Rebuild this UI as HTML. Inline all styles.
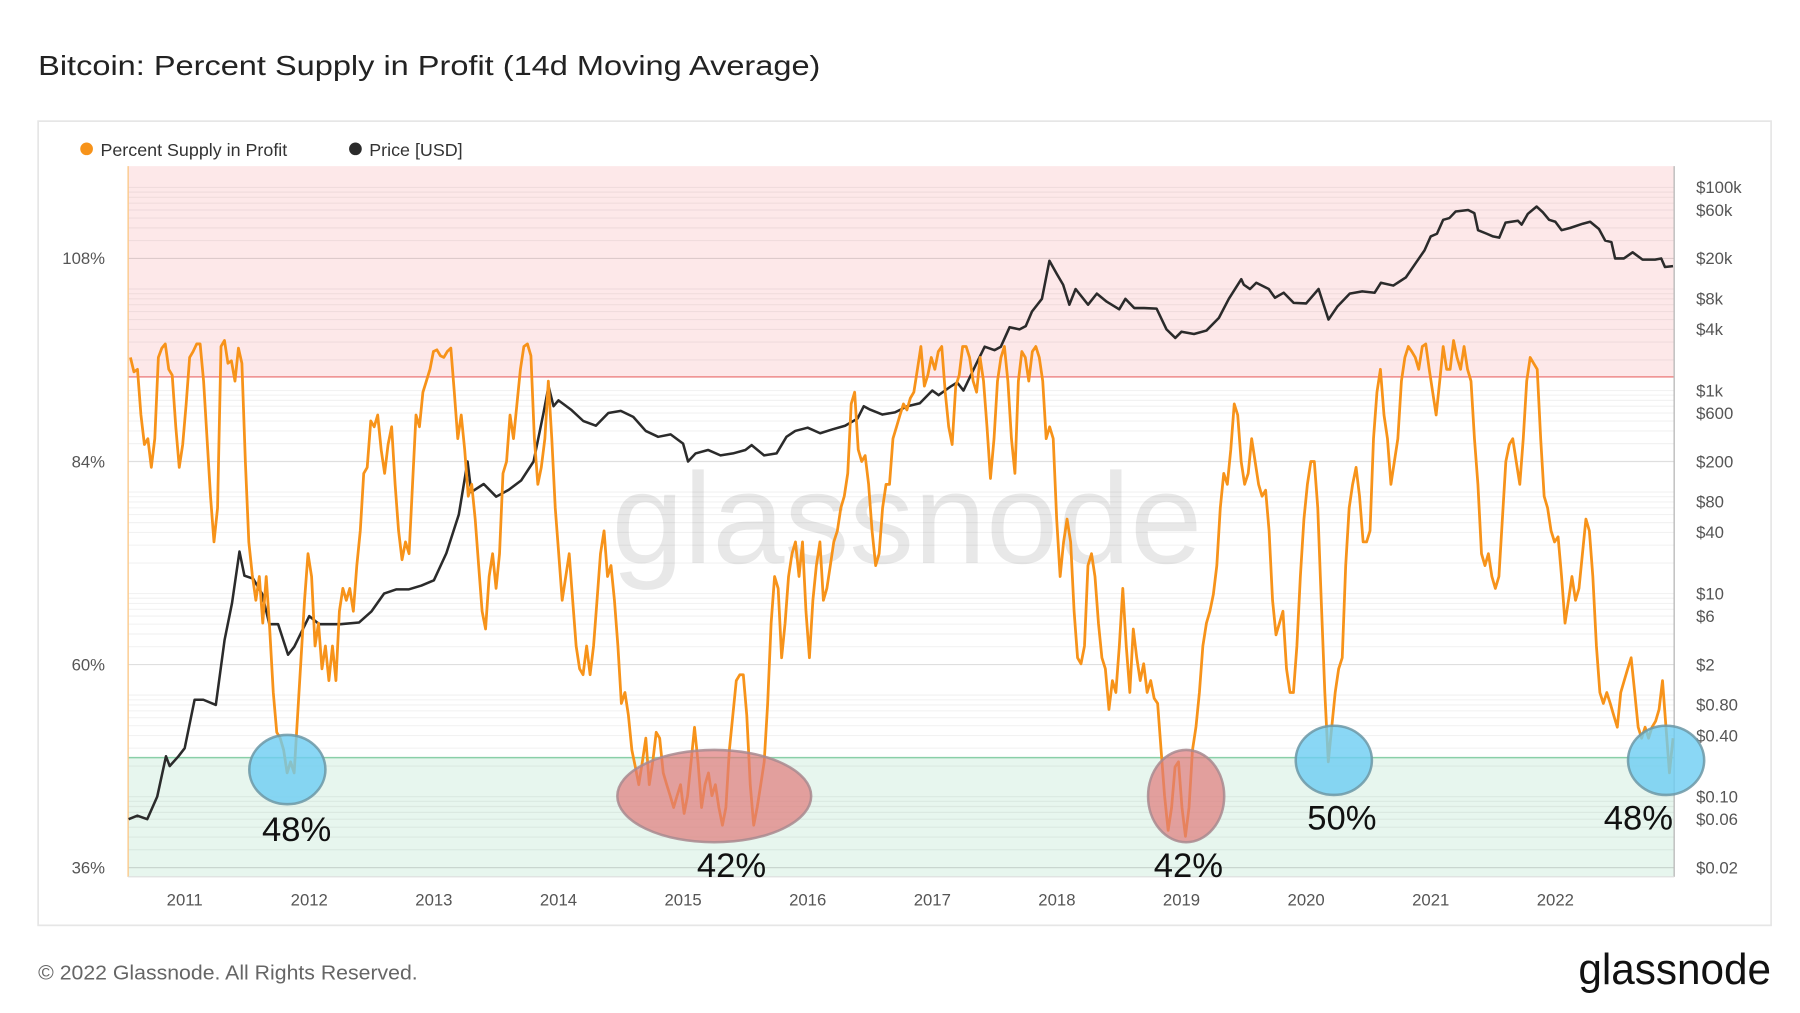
<!DOCTYPE html>
<html><head><meta charset="utf-8"><style>
html,body{margin:0;padding:0;background:#fff;}
svg{display:block;font-family:"Liberation Sans",sans-serif;}
</style></head><body>
<svg id="chart" width="1800" height="1013" viewBox="0 0 1560 878" xmlns="http://www.w3.org/2000/svg">
<text x="33" y="65" font-size="24" fill="#222" textLength="678" lengthAdjust="spacingAndGlyphs">Bitcoin: Percent Supply in Profit (14d Moving Average)</text>
<rect x="33" y="105" width="1502" height="697" fill="#fff" stroke="#e6e6e6" stroke-width="1.5"/>
<g>
<circle cx="75" cy="129" r="5.5" fill="#f7931a"/>
<text x="87" y="135" font-size="15.5" fill="#333">Percent Supply in Profit</text>
<circle cx="308" cy="129" r="5.5" fill="#2b2b2b"/>
<text x="320" y="135" font-size="15.5" fill="#333">Price [USD]</text>
</g>
<g id="bands"></g>
<g id="grid"></g>
<text x="530" y="488" font-size="112" fill="#000" fill-opacity="0.09" textLength="512" lengthAdjust="spacingAndGlyphs">glassnode</text>
<g id="axes"></g>
<g id="series"></g>
<g id="annotations"></g>
<text x="33" y="849" font-size="17.5" fill="#666" textLength="329" lengthAdjust="spacingAndGlyphs">© 2022 Glassnode. All Rights Reserved.</text>
<text x="1368" y="853" font-size="38" fill="#111" textLength="167" lengthAdjust="spacingAndGlyphs">glassnode</text>
</svg>
<script>
const pctStart = 2010.565;
const pctEnd = 2022.944;
const pctValues = [96.3,94.6,94.9,89.5,86.0,86.7,83.3,86.7,96.3,97.4,97.9,94.9,94.2,88.1,83.3,86.0,90.8,96.3,97.0,97.9,97.9,93.5,86.7,79.9,74.5,78.5,97.6,98.3,95.6,95.9,93.5,97.4,95.6,84.0,74.5,70.6,67.6,70.4,64.9,70.4,64.2,56.7,52.0,51.3,49.9,47.2,48.5,47.2,54.0,60.8,67.6,73.1,70.4,62.2,64.9,59.5,62.2,58.1,
62.2,58.1,66.3,69.0,67.6,69.0,66.3,71.7,75.8,82.6,83.3,88.8,88.1,89.5,85.4,82.6,86.0,88.1,81.3,75.8,72.4,74.5,73.1,81.3,89.5,88.1,92.2,93.5,94.9,97.0,97.2,96.5,96.3,97.0,97.4,92.2,86.7,89.5,85.4,79.9,81.3,77.2,71.7,66.3,64.2,70.4,73.1,69.0,73.1,82.6,84.0,89.5,86.7,90.8,94.9,97.6,97.9,96.5,86.7,81.3,83.3,86.7,93.5,86.7,78.5,73.1,67.6,70.4,73.1,67.6,62.2,59.5,58.8,62.2,58.8,62.2,67.6,73.1,75.8,70.4,71.7,67.6,62.2,55.4,56.7,54.0,49.9,47.9,45.8,48.5,51.3,45.8,48.5,52.0,51.3,47.2,45.8,44.5,43.1,44.5,45.8,42.4,44.5,48.5,52.6,48.5,43.1,45.8,47.2,44.5,45.8,43.1,41.0,43.1,49.9,54.0,58.1,58.8,58.8,54.0,45.8,41.0,43.1,45.8,48.5,55.4,64.9,70.4,69.0,60.8,64.9,70.4,73.1,74.5,70.4,74.5,66.3,60.8,67.6,71.7,74.5,67.6,69.0,71.7,74.5,75.8,78.5,79.9,82.6,90.8,92.2,85.4,84.0,84.7,81.3,75.8,71.7,73.1,78.5,81.3,81.3,86.7,88.1,89.5,90.8,90.1,91.5,92.2,94.9,97.6,92.9,94.2,96.3,94.9,97.0,97.6,92.2,88.1,86.0,92.9,94.2,97.6,97.6,96.3,93.5,92.2,96.3,93.5,88.1,82.0,86.7,93.5,96.3,97.6,93.5,86.7,82.6,93.5,97.0,96.3,93.5,97.0,97.6,96.3,93.5,86.7,88.1,86.7,77.2,70.4,74.5,77.2,74.5,66.3,60.8,60.1,62.2,71.7,73.1,70.4,64.9,60.8,59.5,54.7,58.1,56.7,62.2,69.0,62.2,56.7,64.2,60.8,58.1,60.1,56.7,58.1,56.0,55.4,49.9,44.5,40.4,43.1,47.9,48.5,43.1,39.7,43.1,49.9,52.6,56.7,62.2,64.9,66.3,68.3,71.7,78.5,82.6,81.3,85.4,90.8,89.5,84.0,81.3,82.6,86.7,84.0,81.3,79.9,80.6,75.8,67.6,63.5,64.9,66.3,59.5,56.7,56.7,62.2,70.4,77.2,81.3,84.0,84.0,78.5,67.6,56.7,48.5,52.6,56.7,59.5,60.8,71.7,78.5,81.3,83.3,79.9,74.5,74.5,75.8,86.7,92.2,94.9,89.5,86.7,81.3,84.0,86.7,93.5,96.3,97.6,97.0,96.3,94.9,97.6,97.9,94.9,92.2,89.5,93.5,97.6,94.9,94.9,98.3,96.3,94.9,97.6,94.9,93.5,86.7,81.3,73.1,71.7,73.1,70.4,69.0,70.4,77.2,84.0,86.0,86.7,84.0,81.3,86.7,93.5,96.3,95.6,94.9,86.7,79.9,78.5,75.8,74.5,75.1,70.4,64.9,67.6,70.4,67.6,69.0,73.1,77.2,75.8,70.4,62.2,56.7,55.4,56.7,55.4,54.0,52.6,56.7,58.1,59.5,60.8,56.7,52.6,51.3,52.6,51.3,52.6,53.3,54.7,58.1,52.6,47.2,51.3];
const priceDates = [2010.55,2010.62,2010.70,2010.78,2010.85,2010.88,2010.95,2011.0,2011.08,2011.15,2011.25,2011.32,2011.38,2011.44,2011.48,2011.55,2011.62,2011.68,2011.75,2011.83,2011.88,2011.95,2012.0,2012.08,2012.25,2012.4,2012.5,2012.6,2012.7,2012.8,2012.9,2013.0,2013.1,2013.2,2013.27,2013.3,2013.4,2013.5,2013.6,2013.7,2013.8,2013.88,2013.92,2013.96,2014.0,2014.1,2014.2,2014.3,2014.4,2014.5,2014.6,2014.7,2014.8,2014.9,2015.0,2015.04,2015.1,2015.2,2015.3,2015.4,2015.5,2015.55,2015.65,2015.75,2015.83,2015.9,2016.0,2016.1,2016.2,2016.3,2016.4,2016.45,2016.5,2016.6,2016.7,2016.8,2016.9,2017.0,2017.05,2017.15,2017.2,2017.25,2017.35,2017.42,2017.5,2017.55,2017.62,2017.7,2017.75,2017.8,2017.88,2017.94,2018.0,2018.05,2018.1,2018.15,2018.25,2018.32,2018.4,2018.5,2018.55,2018.62,2018.7,2018.8,2018.88,2018.95,2019.0,2019.1,2019.2,2019.3,2019.38,2019.48,2019.5,2019.55,2019.6,2019.7,2019.75,2019.82,2019.9,2020.0,2020.1,2020.18,2020.25,2020.35,2020.45,2020.55,2020.6,2020.7,2020.8,2020.88,2020.95,2021.0,2021.05,2021.1,2021.15,2021.2,2021.3,2021.35,2021.38,2021.45,2021.5,2021.55,2021.6,2021.7,2021.73,2021.78,2021.85,2021.9,2021.95,2022.0,2022.05,2022.12,2022.22,2022.28,2022.35,2022.4,2022.45,2022.48,2022.55,2022.62,2022.7,2022.8,2022.85,2022.88,2022.944];
const priceValues = [0.06,0.065,0.06,0.10,0.25,0.2,0.25,0.30,0.9,0.9,0.8,3.5,8,26,15,14,10,5,5,2.5,3,4.5,6,5,5,5.2,6.7,10,11,11,12,13.5,25,60,200,100,120,90,105,130,200,600,1100,700,800,650,500,450,600,630,550,400,350,370,300,200,240,260,230,240,260,290,230,240,350,400,430,380,415,450,530,700,650,580,610,700,750,1000,900,1100,1200,1000,1800,2700,2500,2700,4200,4000,4300,6000,8000,19000,14000,11000,7000,10000,7000,9000,7500,6300,8000,6500,6500,6400,4000,3300,3800,3600,3900,5200,8000,12500,11000,10000,11500,10000,8200,9200,7300,7200,10000,5000,6700,9000,9500,9200,11500,10800,13000,18000,24000,33000,35000,48000,50000,58000,60000,56000,38000,35000,33000,32000,45000,47000,43000,55000,65000,57000,48000,46000,38000,40000,44000,46000,39000,30000,29000,20000,20000,23000,19500,19500,20000,16500,16800];
const yearTicks = [2011,2012,2013,2014,2015,2016,2017,2018,2019,2020,2021,2022];
const pctTicks = [36,60,84,108];
const priceTicks = [100000,60000,20000,8000,4000,1000,600,200,80,40,10,6,2,0.8,0.4,0.1,0.06,0.02];
const priceTickLabels = ["$100k","$60k","$20k","$8k","$4k","$1k","$600","$200","$80","$40","$10","$6","$2","$0.80","$0.40","$0.10","$0.06","$0.02"];
const upperThreshold = 94;
const lowerThreshold = 49;

const NS="http://www.w3.org/2000/svg";
const PL=111, PR=1451, PT=144, PB=760;
const xScale = t => 160 + (t-2011)*108;
const yPct = p => 752 - (p-36)*(176/24);
const yPrice = v => 752 - Math.log10(v/0.02)*88;
function mk(tag, parent, attrs){const e=document.createElementNS(NS,tag);for(const k in attrs)e.setAttribute(k,attrs[k]);parent.appendChild(e);return e;}
const bands=document.getElementById('bands'), grid=document.getElementById('grid'), axes=document.getElementById('axes'), series=document.getElementById('series'), ann=document.getElementById('annotations');

let r=mk('rect',bands,{x:PL,y:PT,width:PR-PL,height:PB-PT,fill:'#fff'});


r=mk('rect',bands,{x:PL,y:PT,width:PR-PL,height:yPct(upperThreshold)-PT,fill:'#fde8e9'});


r=mk('rect',bands,{x:PL,y:yPct(lowerThreshold),width:PR-PL,height:PB-yPct(lowerThreshold),fill:'#e7f6ee'});



const gridVals=[];
for(let d=-2;d<=5;d++){[1,2,3,4,5,6,7,8,9].forEach(m=>{const v=m*Math.pow(10,d);if(v>=0.02&&v<=150000)gridVals.push(v);});}
gridVals.forEach(v=>{const y=yPrice(v);if(y<PT||y>PB)return;
 const l=mk('line',grid,{x1:PL,x2:PR,y1:y,y2:y,stroke:'#000','stroke-opacity':0.05,'stroke-width':1});
 
 });
pctTicks.forEach(p=>{const y=yPct(p);const l=mk('line',grid,{x1:PL,x2:PR,y1:y,y2:y,stroke:'#000','stroke-opacity':0.08,'stroke-width':1});
 
 });
let ln=mk('line',grid,{x1:PL,x2:PR,y1:yPct(upperThreshold),y2:yPct(upperThreshold),stroke:'#ee8a8a','stroke-width':1.3});


ln=mk('line',grid,{x1:PL,x2:PR,y1:yPct(lowerThreshold),y2:yPct(lowerThreshold),stroke:'#8acfa8','stroke-width':1.3});


ln=mk('line',axes,{x1:PL,x2:PL,y1:PT,y2:PB,stroke:'#fbc98a','stroke-width':1.2});


ln=mk('line',axes,{x1:PR,x2:PR,y1:PT,y2:PB,stroke:'#bbb','stroke-width':1.2});


ln=mk('line',axes,{x1:PL,x2:PR,y1:PB,y2:PB,stroke:'#ddd','stroke-width':1});



yearTicks.forEach(yr=>{const t=mk('text',axes,{x:xScale(yr),y:785,'font-size':14.5,fill:'#555','text-anchor':'middle'});t.textContent=yr;
 
 });
pctTicks.forEach(p=>{const t=mk('text',axes,{x:91,y:yPct(p)+5,'font-size':14.5,fill:'#555','text-anchor':'end'});t.textContent=p+'%';
 
 });
priceTicks.forEach((v,i)=>{const t=mk('text',axes,{x:1470,y:yPrice(v)+5,'font-size':14.5,fill:'#555'});t.textContent=priceTickLabels[i];
 
 });

let d='';priceDates.forEach((t,i)=>{d+=(i?'L':'M')+xScale(t).toFixed(1)+' '+yPrice(priceValues[i]).toFixed(1);});
let p=mk('path',series,{d:d,fill:'none',stroke:'#2b2b2b','stroke-width':2.2,'stroke-linejoin':'round'});


d='';const n=pctValues.length;pctValues.forEach((v,i)=>{const t=pctStart+(pctEnd-pctStart)*i/(n-1);d+=(i?'L':'M')+xScale(t).toFixed(1)+' '+yPct(v).toFixed(1);});
p=mk('path',series,{d:d,fill:'none',stroke:'#f7931a','stroke-width':2.4,'stroke-linejoin':'round'});



const anns=[
 {cx:249,cy:667,rx:33,ry:30,c:'blue',label:'48%',lx:257,ly:729},
 {cx:619,cy:690,rx:84,ry:40,c:'red',label:'42%',lx:634,ly:760},
 {cx:1028,cy:690,rx:33,ry:40,c:'red',label:'42%',lx:1030,ly:760},
 {cx:1156,cy:659,rx:33,ry:30,c:'blue',label:'50%',lx:1163,ly:719},
 {cx:1444,cy:659,rx:33,ry:30,c:'blue',label:'48%',lx:1420,ly:719}];
anns.forEach(a=>{
 const e=mk('ellipse',ann,{cx:a.cx,cy:a.cy,rx:a.rx,ry:a.ry,fill:a.c==='blue'?'#6dcdf2':'#e07a7a','fill-opacity':a.c==='blue'?0.8:0.7,stroke:a.c==='blue'?'#6c98a6':'#a88a8f','stroke-width':2.2,'stroke-opacity':0.85});
 
 
 const t=mk('text',ann,{x:a.lx,y:a.ly,'font-size':30,fill:'#111','text-anchor':'middle'});t.textContent=a.label;
 
 
});
</script>
</body></html>
